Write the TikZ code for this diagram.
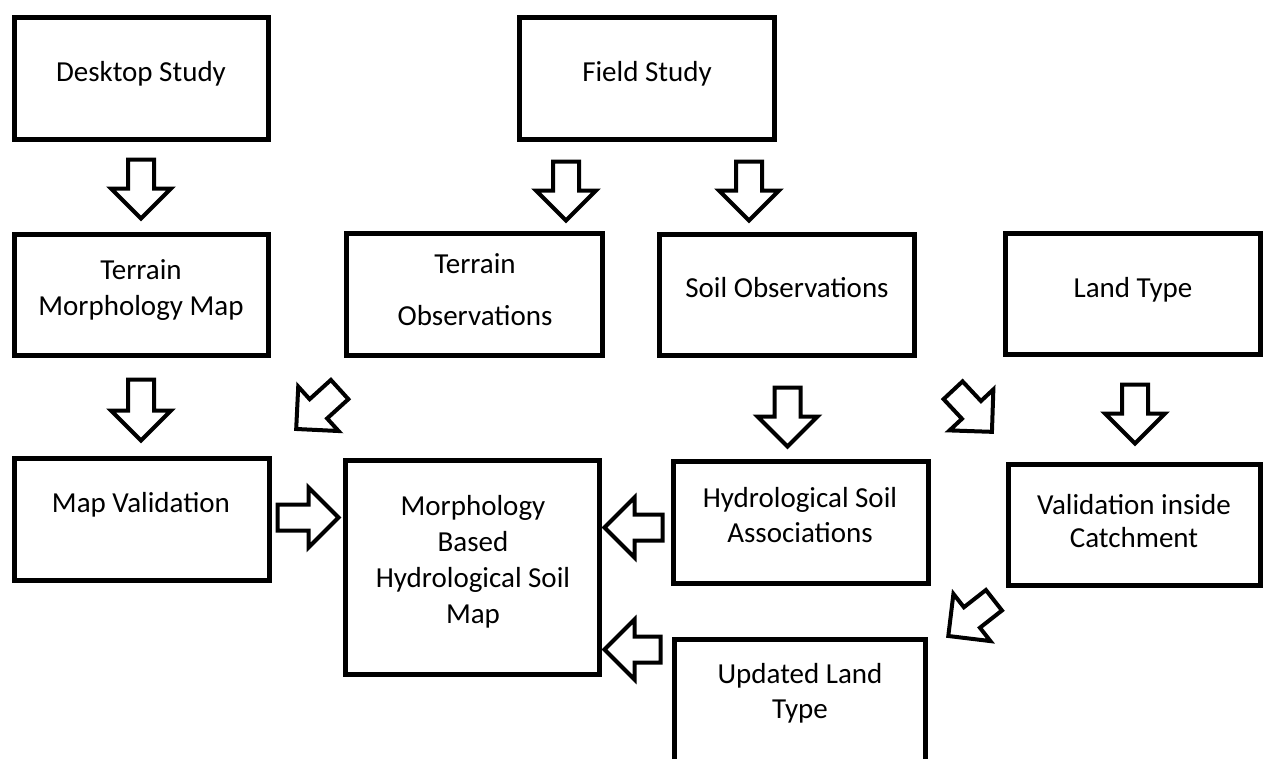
\documentclass[tikz,border=0pt]{standalone}
\usepackage{fontspec}
\setmainfont{Carlito}
\usetikzlibrary{shapes.arrows,calc}
\tikzset{
  box/.style={draw, line width=4.5pt, rectangle, inner sep=0pt, fill=white},
  lbl/.style={align=center, inner sep=0pt, anchor=north, font=\fontsize{29}{36}\selectfont},
  blockarrow/.style={single arrow, draw, line width=4pt, fill=white, minimum width=0pt,
    inner xsep=0pt, inner ysep=11pt, text height=0pt, text depth=0pt,
    single arrow head extend=17pt, single arrow tip angle=90}
}
\newcommand\barrow[3]{%
  \path let \p1=($(#3)-(#2)$), \n1={veclen(\x1,\y1)}, \n2={atan2(\y1,\x1)} in
    node[blockarrow, minimum height=\n1, rotate=\n2, anchor=tail] (#1) at (#2) {};}
\begin{document}
\begin{tikzpicture}[x=1pt, y=-1pt]
\useasboundingbox (0,0) rectangle (1264,758);
\fill[white] (0,0) rectangle (1264,758);
\clip (0,0) rectangle (1264,758);
% boxes
\node[box, minimum width=254pt, minimum height=122pt] (desk) at (141.5,78.5) {};
\node[box, minimum width=255pt, minimum height=122pt] (field) at (647,78.5) {};
\node[box, minimum width=254pt, minimum height=121pt] (tmm) at (141.5,295) {};
\node[box, minimum width=256pt, minimum height=122pt] (tobs) at (474.5,294.5) {};
\node[box, minimum width=255pt, minimum height=121pt] (sobs) at (787,295) {};
\node[box, minimum width=255pt, minimum height=121pt] (land) at (1133,294) {};
\node[box, minimum width=255pt, minimum height=122pt] (mapv) at (142,519.5) {};
\node[box, minimum width=254pt, minimum height=214pt] (morph) at (472.5,567.5) {};
\node[box, minimum width=255pt, minimum height=122pt] (hydro) at (801,522.5) {};
\node[box, minimum width=252pt, minimum height=121pt] (valid) at (1134.5,525) {};
\node[box, minimum width=251pt, minimum height=200pt] (upd) at (800,739.5) {};
% labels
\node[lbl] (tdesk) at (141,55.8) {\strut Desktop Study};
\node[lbl] (tfield) at (647,55.8) {\strut Field Study};
\node[lbl] (ttmm) at (141,253.8) {\strut Terrain\\Morphology Map};
\node[lbl] (ttobs) at (475,247.8) {\strut Terrain\\[16pt]Observations};
\node[lbl] (tsobs) at (787,271.8) {\strut Soil Observations};
\node[lbl] (tland) at (1133,271.8) {\strut Land Type};
\node[lbl] (tmapv) at (141,486.8) {\strut Map Validation};
\node[lbl] (tmorph) at (473,489.8) {\strut Morphology\\Based\\Hydrological Soil\\Map};
\node[lbl] (thydro) at (800,481.8) {\strut Hydrological Soil\\[-1pt]Associations};
\node[lbl] (tvalid) at (1134,488.8) {\strut Validation inside\\[-3pt]Catchment};
\node[lbl] (tupd) at (800,657.8) {\strut Updated Land\\[-1pt]Type};
% arrow end points
\coordinate (a1s) at (141,157.5);   \coordinate (a1e) at (141,216.5);
\coordinate (a2s) at (566,159.5);   \coordinate (a2e) at (566,218.5);
\coordinate (a3s) at (749,159.5);   \coordinate (a3e) at (749,218.5);
\coordinate (a4s) at (141,377.5);   \coordinate (a4e) at (141,438.5);
\coordinate (a5s) at (341.1,388.2); \coordinate (a5e) at (297.6,427.7);
\coordinate (a6s) at (275.5,517.5); \coordinate (a6e) at (336.5,517.5);
\coordinate (a7s) at (787.5,385.5); \coordinate (a7e) at (787.5,444.5);
\coordinate (a8s) at (951.7,388.8); \coordinate (a8e) at (990.6,430.4);
\coordinate (a9s) at (1135,382.5);  \coordinate (a9e) at (1135,441.5);
\coordinate (a10s) at (995.5,599.0); \coordinate (a10e) at (949.8,634.8);
\coordinate (a11s) at (664.5,527.5); \coordinate (a11e) at (606.5,527.5);
\coordinate (a12s) at (662.5,649.5); \coordinate (a12e) at (606.5,649.5);
% block arrows
\barrow{ar1}{a1s}{a1e}
\barrow{ar2}{a2s}{a2e}
\barrow{ar3}{a3s}{a3e}
\barrow{ar4}{a4s}{a4e}
\barrow{ar5}{a5s}{a5e}
\barrow{ar6}{a6s}{a6e}
\barrow{ar7}{a7s}{a7e}
\barrow{ar8}{a8s}{a8e}
\barrow{ar9}{a9s}{a9e}
\barrow{ar10}{a10s}{a10e}
\barrow{ar11}{a11s}{a11e}
\barrow{ar12}{a12s}{a12e}
\end{tikzpicture}
\end{document}
